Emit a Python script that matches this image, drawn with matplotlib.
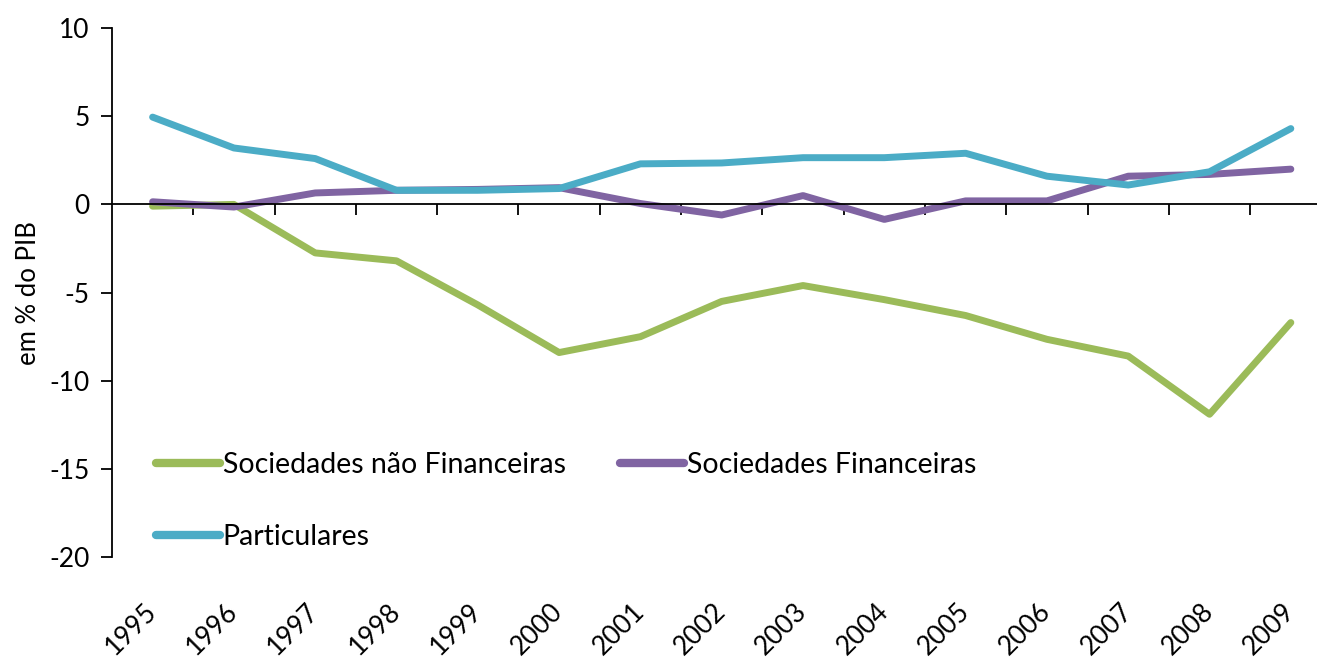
import numpy as np
import matplotlib
matplotlib.use('Agg')
import matplotlib.pyplot as plt

# dados (em % do PIB)
anos = ['1995', '1996', '1997', '1998', '1999', '2000', '2001', '2002',
        '2003', '2004', '2005', '2006', '2007', '2008', '2009']
soc_nao_fin = [-0.1, 0.0, -2.75, -3.2, -5.7, -8.4, -7.5, -5.5,
               -4.6, -5.4, -6.3, -7.65, -8.6, -11.9, -6.7]
soc_fin = [0.15, -0.15, 0.65, 0.8, 0.85, 0.95, 0.05, -0.6,
           0.5, -0.85, 0.2, 0.2, 1.6, 1.7, 2.0]
particulares = [4.95, 3.2, 2.6, 0.8, 0.8, 0.9, 2.3, 2.35,
                2.65, 2.65, 2.9, 1.6, 1.1, 1.85, 4.3]

plt.rcParams['font.family'] = ['Lato', 'DejaVu Sans']
plt.rcParams['axes.unicode_minus'] = False

fig = plt.figure(figsize=(13.17, 6.68), dpi=100)
ax = fig.add_axes([0.085, 0.166, 0.926, 0.792])

x = np.arange(len(anos))
lw = 5
l1, = ax.plot(x, soc_nao_fin, color='#9BBB59', lw=lw, solid_capstyle='round',
              label='Sociedades não Financeiras')
l2, = ax.plot(x, soc_fin, color='#8064A2', lw=lw, solid_capstyle='round',
              label='Sociedades Financeiras')
l3, = ax.plot(x, particulares, color='#4BACC6', lw=lw, solid_capstyle='round',
              label='Particulares')

ax.set_xlim(-0.5, len(anos) - 0.5)
ax.set_ylim(-20, 10)
ax.set_yticks(range(-20, 11, 5))
ax.tick_params(axis='y', labelsize=19, length=8, width=1.3, direction='out', pad=8)
ax.set_ylabel('em % do PIB', fontsize=18.5, labelpad=6)

for s in ['top', 'right']:
    ax.spines[s].set_visible(False)
ax.spines['left'].set_linewidth(1.3)
# eixo horizontal no zero, ticks entre categorias
ax.spines['bottom'].set_position(('data', 0))
ax.spines['bottom'].set_linewidth(1.3)
ax.set_xticks(x[:-1] + 0.5)
ax.set_xticklabels([])
ax.tick_params(axis='x', length=8, width=1.3, direction='out')

# rótulos dos anos em baixo
ax2 = ax.twiny()
ax2.set_xlim(ax.get_xlim())
for s in ax2.spines.values():
    s.set_visible(False)
ax2.xaxis.set_ticks_position('bottom')
ax2.xaxis.set_label_position('bottom')
ax2.set_xticks(x)
ax2.set_xticklabels(anos, rotation=45, ha='right', va='center',
                    rotation_mode='anchor', fontsize=19)
ax2.tick_params(axis='x', length=0, pad=36)

leg = ax.legend(handles=[l1, l3, l2], ncol=2, loc='lower left',
                bbox_to_anchor=(0.015, -0.035), frameon=False,
                prop={'size': 20.5},
                handlelength=2.25, handletextpad=0.1, labelspacing=1.6,
                columnspacing=1.9)
for ln in leg.get_lines():
    ln.set_linewidth(6)

fig.savefig('out.png', dpi=100)
